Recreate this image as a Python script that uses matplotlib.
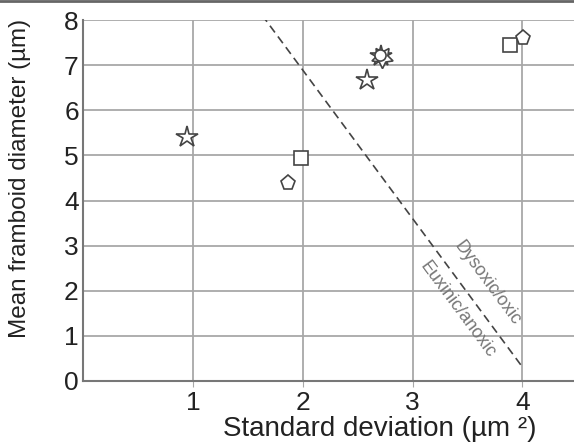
import matplotlib.pyplot as plt
from matplotlib.lines import Line2D

plt.rcParams['font.family'] = ['Liberation Sans', 'DejaVu Sans']

# --- data ---
star_x = [0.945, 2.59]
star_y = [5.41, 6.67]
square_x = [1.985, 3.89]
square_y = [4.94, 7.45]
pent_x = [1.87, 4.01]
pent_y = [4.39, 7.60]
cluster_x = [2.71, 2.72, 2.70]
cluster_y = [7.20, 7.18, 7.22]

line_x = [1.63, 4.00]
line_y = [8.11, 0.31]

xticks = [1, 2, 3, 4]
yticks = [0, 1, 2, 3, 4, 5, 6, 7, 8]

fig = plt.figure(figsize=(5.74, 4.46), dpi=100, facecolor='white')
ax = fig.add_axes([83 / 574, 65 / 446, (574 - 83) / 574, 361 / 446])

ax.set_xlim(0, 4.47)
ax.set_ylim(0, 8)

ax.grid(True, color='#a8a8a8', linewidth=1.3)
ax.set_axisbelow(True)
ax.set_xticks(xticks)
ax.set_yticks(yticks)
ax.tick_params(axis='both', length=4, color='#a8a8a8', labelsize=19,
               labelcolor='#222222')
ax.tick_params(axis='x', pad=3)
ax.tick_params(axis='y', length=0, pad=3)

for s in ['top', 'right']:
    ax.spines[s].set_visible(False)
for s in ['left', 'bottom']:
    ax.spines[s].set_color('#777777')
    ax.spines[s].set_linewidth(1.5)

ax.plot(line_x, line_y, color='#444444', linewidth=1.2, linestyle=(0, (5, 3)))

mk = dict(linestyle='none', markerfacecolor='white', markeredgecolor='#444444',
          markeredgewidth=1.2, zorder=5)
ax.plot(star_x, star_y, marker='*', markersize=16, **mk)
ax.plot(square_x, square_y, marker='s', markersize=10, **mk)
ax.plot(pent_x, pent_y, marker='p', markersize=11, **mk)
ax.plot(cluster_x[:1], cluster_y[:1], marker='*', markersize=16, **mk)
ax.plot(cluster_x[1:2], cluster_y[1:2], marker=(5, 1, 36), markersize=16, **mk)
ax.plot(cluster_x[2:], cluster_y[2:], marker='o', markersize=8, **mk)

ax.text(3.68, 2.17, 'Dysoxic/oxic', rotation=-53.5, color='#777777',
        fontsize=13, ha='center', va='center', rotation_mode='anchor')
ax.text(3.41, 1.57, 'Euxinic/anoxic', rotation=-53.5, color='#777777',
        fontsize=13, ha='center', va='center', rotation_mode='anchor')

ax.set_ylabel('Mean framboid diameter (\u00b5m)', fontsize=17.5,
              color='#222222', va='center')
ax.yaxis.set_label_coords(-0.128, 0.56)
ax.set_xlabel('Standard deviation (\u00b5m \u00b2)', fontsize=20,
              color='#222222', va='center')
ax.xaxis.set_label_coords(0.605, -0.132)

fig.add_artist(Line2D([0, 1], [0.998, 0.998], color='#666666', linewidth=2))

plt.savefig('out.png', dpi=100)
